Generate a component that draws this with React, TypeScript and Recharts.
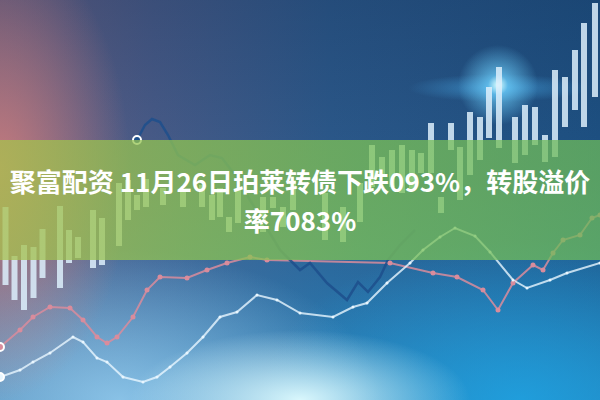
import React from 'react';
import { ComposedChart, Bar, Line, XAxis, YAxis } from 'recharts';

// candle positions (t) with low / high levels
const candleT = [5.5, 14.5, 24, 33.5, 42.5, 60, 69, 78, 93, 102, 119, 128, 137, 146, 163, 183, 202, 212, 220, 229, 238, 263, 273, 283, 293, 325, 343, 360, 372, 382, 392, 402, 412, 421, 431, 441, 451, 460, 470, 480, 489, 499, 515, 525, 535, 545, 555, 565, 575, 584, 595];
const candleLow = [115, 100, 90, 102, 122, 112, 137, 142, 132, 135, 154, 180, 190, 193, 195, 193, 193, 180, 183, 168, 177, 168, 192, 173, 190, 160, 158, 178, 213, 223, 213, 207, 210, 227, 227, 187, 250, 200, 225, 240, 262, 252, 237, 245, 255, 238, 243, 273, 290, 273, 303];
const candleHigh = [193, 144, 155, 153, 171, 194, 170, 163, 190, 182, 217, 220, 205, 221, 212, 208, 215, 205, 212, 183, 210, 203, 203, 193, 220, 207, 193, 217, 255, 243, 250, 255, 250, 247, 277, 203, 277, 253, 288, 283, 313, 333, 283, 295, 293, 265, 330, 323, 350, 377, 397];

const whiteT = [0, 20, 33, 50, 73, 83, 97, 107, 123, 143, 157, 170, 187, 203, 220, 237, 257, 277, 300, 333, 353, 367, 387, 410, 423, 440, 455, 475, 490, 513, 527, 550, 567, 600];
const whiteV = [23, 30, 38, 47, 63, 58, 42, 38, 23, 18, 23, 33, 47, 63, 83, 88, 105, 100, 87, 83, 93, 97, 117, 137, 150, 163, 172, 164, 148, 120, 112, 120, 127, 137];

const pinkT = [0, 20, 33, 50, 70, 83, 97, 107, 117, 133, 147, 160, 187, 207, 227, 250, 267, 390, 433, 457, 483, 498, 513, 533, 543, 553, 563, 580, 592, 600];
const pinkV = [53, 70, 83, 93, 92, 80, 63, 57, 63, 83, 110, 123, 122, 130, 137, 143, 140, 137, 127, 123, 110, 90, 117, 135, 130, 147, 160, 165, 182, 185];

const navyT = [137, 145, 152, 160, 168, 178, 195, 210, 222, 235, 250, 265, 280, 293, 300, 310, 327, 347, 358, 368, 380, 388, 400, 415];
const navyV = [260, 275, 281, 278, 265, 245, 235, 245, 242, 225, 200, 175, 150, 137, 130, 137, 117, 100, 118, 108, 123, 140, 155, 170];

const titleLines = ['聚富配资 11月26日珀莱转债下跌093%，转股溢价', '率7083%'];

const candles = candleT.map((t, i) => ({ t, range: [candleLow[i], candleHigh[i]] }));
const whiteData = whiteT.map((t, i) => ({ t, v: whiteV[i] }));
const pinkData = pinkT.map((t, i) => ({ t, v: pinkV[i] }));
const navyData = navyT.map((t, i) => ({ t, v: navyV[i] }));

const App: React.FC = () => {
  return (
    <div
      style={{
        position: 'absolute',
        top: 0,
        left: 0,
        width: 600,
        height: 400,
        overflow: 'hidden',
        background: [
          'radial-gradient(circle at 498px 85px, rgba(220,255,255,1) 0px, rgba(110,210,255,0.7) 10px, rgba(40,150,230,0) 40px)',
          'radial-gradient(ellipse 90px 14px at 498px 88px, rgba(80,190,255,0.5), rgba(80,190,255,0))',
          'radial-gradient(ellipse 170px 70px at 300px 400px, rgba(225,252,255,0.95), rgba(160,230,255,0) 100%)',
          'radial-gradient(ellipse 130px 230px at 0px 170px, rgba(205,125,125,0.9), rgba(205,125,125,0) 100%)',
          'radial-gradient(ellipse 260px 150px at 120px 400px, rgba(170,220,250,0.7), rgba(170,220,250,0) 100%)',
          'radial-gradient(ellipse 260px 160px at 520px 400px, rgba(30,170,235,0.7), rgba(30,170,235,0) 100%)',
          'linear-gradient(to bottom, rgba(15,35,70,0.25) 0%, rgba(0,0,0,0) 45%, rgba(40,170,230,0.5) 100%)',
          'linear-gradient(to right, #6c6284 0%, #4a5d8a 25%, #2c5a8c 55%, #1e5284 100%)',
        ].join(', '),
      }}
    >
      <ComposedChart width={600} height={400} data={candles} margin={{ top: 0, right: 0, bottom: 0, left: 0 }}>
        <XAxis xAxisId="c" dataKey="t" type="number" domain={[0, 600]} hide />
        <XAxis xAxisId="l" dataKey="t" type="number" domain={[0, 600]} hide />
        <YAxis yAxisId="p" type="number" domain={[0, 400]} hide />
        <Line
          xAxisId="l"
          yAxisId="p"
          data={pinkData}
          dataKey="v"
          type="linear"
          stroke="#d98c9c"
          strokeWidth={2}
          strokeOpacity={0.85}
          dot={{ r: 2.5, fill: '#d98c9c', stroke: 'none' }}
          isAnimationActive={false}
        />
        <Line
          xAxisId="l"
          yAxisId="p"
          data={whiteData}
          dataKey="v"
          type="linear"
          stroke="#e8f6ff"
          strokeWidth={2}
          strokeOpacity={0.8}
          dot={{ r: 1.5, fill: '#e8f6ff', stroke: 'none' }}
          isAnimationActive={false}
        />
        <Line
          xAxisId="l"
          yAxisId="p"
          data={navyData}
          dataKey="v"
          type="linear"
          stroke="#1d4f8c"
          strokeWidth={2.5}
          strokeOpacity={0.85}
          dot={false}
          isAnimationActive={false}
        />
        <Bar
          xAxisId="c"
          yAxisId="p"
          dataKey="range"
          barSize={6}
          fill="#dceffc"
          fillOpacity={0.85}
          isAnimationActive={false}
        />
      </ComposedChart>
      {/* green title band over the chart */}
      <div
        style={{
          position: 'absolute',
          left: 0,
          top: 140,
          width: 600,
          height: 120,
          opacity: 0.75,
          background: 'linear-gradient(to right, #a7c14d 0%, #8fc451 30%, #7cc255 60%, #6cba5a 100%)',
        }}
      />
      <div
        style={{
          position: 'absolute',
          left: 0,
          top: 161,
          width: 600,
          textAlign: 'center',
          color: '#ffffff',
          fontFamily: '"Noto Sans CJK SC", "Noto Sans", sans-serif',
          fontWeight: 700,
          fontSize: 26,
          lineHeight: '39px',
          whiteSpace: 'nowrap',
        }}
      >
        {titleLines.map((s) => (
          <div key={s}>{s}</div>
        ))}
      </div>
    </div>
  );
};

export default App;
